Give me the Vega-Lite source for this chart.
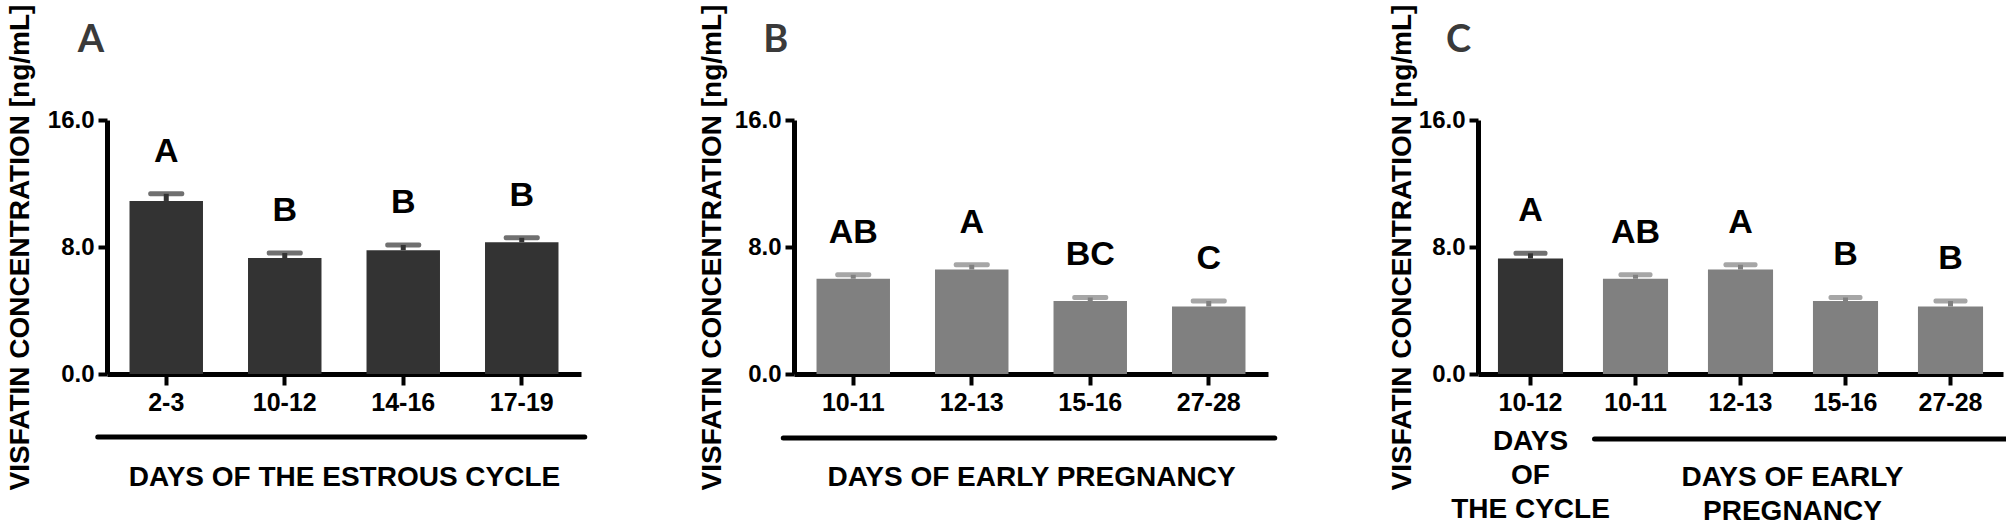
{
  "$schema": "https://vega.github.io/schema/vega-lite/v6.json",
  "background": "white",
  "padding": {"left": 6, "top": 4, "right": 5, "bottom": 5},
  "spacing": 110,
  "config": {
    "view": {"stroke": null},
    "font": "Liberation Sans",
    "axis": {
      "grid": false,
      "domainColor": "black",
      "domainWidth": 5,
      "tickColor": "black",
      "tickWidth": 4,
      "labelFont": "Liberation Sans",
      "labelFontWeight": "bold",
      "labelColor": "black",
      "titleFont": "Liberation Sans",
      "titleFontWeight": "bold",
      "titleColor": "black"
    },
    "axisX": {"tickSize": 11, "labelFontSize": 25, "labelPadding": 5, "labelAngle": 0, "titleFontSize": 28, "titlePadding": 48},
    "axisY": {"tickSize": 9, "labelFontSize": 24, "labelPadding": 4, "titleFontSize": 28}
  },
  "hconcat": [
    {
      "width": 474,
      "height": 254,
      "data": {"values": [
        {"day": "2-3", "mean": 10.9, "upper": 11.35, "letter": "A", "grp": "cycle"},
        {"day": "10-12", "mean": 7.3, "upper": 7.62, "letter": "B", "grp": "cycle"},
        {"day": "14-16", "mean": 7.8, "upper": 8.13, "letter": "B", "grp": "cycle"},
        {"day": "17-19", "mean": 8.3, "upper": 8.58, "letter": "B", "grp": "cycle"}
      ]},
      "encoding": {
        "x": {"field": "day", "type": "nominal", "scale": {"domain": ["2-3", "10-12", "14-16", "17-19"], "paddingInner": 0.38, "paddingOuter": 0.19}, "axis": {"title": "DAYS OF THE ESTROUS CYCLE"}}
      },
      "layer": [
        {
          "mark": {"type": "bar"},
          "encoding": {
            "y": {"field": "mean", "type": "quantitative", "scale": {"domain": [0, 16], "nice": false}, "axis": {"values": [0, 8, 16], "format": ".1f", "title": "VISFATIN CONCENTRATION [ng/mL]", "titlePadding": 13}},
            "color": {"field": "grp", "type": "nominal", "scale": {"domain": ["cycle", "pregnancy"], "range": ["#333333", "#808080"]}, "legend": null}
          }
        },
        {
          "mark": {"type": "rule", "strokeWidth": 5},
          "encoding": {
            "y": {"field": "mean", "type": "quantitative"},
            "y2": {"field": "upper"},
            "color": {"field": "grp", "type": "nominal", "legend": null}
          }
        },
        {
          "mark": {"type": "tick", "thickness": 5, "size": 36, "cornerRadius": 2},
          "encoding": {
            "y": {"field": "upper", "type": "quantitative"},
            "color": {"field": "grp", "type": "nominal", "legend": null}
          }
        },
        {
          "mark": {"type": "text", "dy": -42, "fontSize": 34, "fontWeight": "bold", "baseline": "middle", "color": "black"},
          "encoding": {
            "y": {"field": "upper", "type": "quantitative"},
            "text": {"field": "letter"}
          }
        },
        {
          "data": {"values": [{}]},
          "mark": {"type": "rule", "strokeWidth": 5, "color": "black", "strokeCap": "round", "yOffset": 63, "xOffset": -68.5, "x2Offset": 63},
          "encoding": {
            "x": {"datum": "2-3", "type": "nominal"},
            "x2": {"datum": "17-19"},
            "y": {"datum": 0, "type": "quantitative"}
          }
        },
        {
          "data": {"values": [{}]},
          "mark": {"type": "text", "text": "A", "font": "Lato", "fontSize": 38, "fontWeight": "bold", "color": "#3a3a3a", "align": "left", "baseline": "alphabetic", "xOffset": -88.5, "yOffset": -68},
          "encoding": {
            "x": {"datum": "2-3", "type": "nominal"},
            "y": {"datum": 16, "type": "quantitative"}
          }
        }
      ]
    },
    {
      "width": 474,
      "height": 254,
      "data": {"values": [
        {"day": "10-11", "mean": 6.0, "upper": 6.25, "letter": "AB", "grp": "pregnancy"},
        {"day": "12-13", "mean": 6.58, "upper": 6.88, "letter": "A", "grp": "pregnancy"},
        {"day": "15-16", "mean": 4.6, "upper": 4.82, "letter": "BC", "grp": "pregnancy"},
        {"day": "27-28", "mean": 4.25, "upper": 4.6, "letter": "C", "grp": "pregnancy"}
      ]},
      "encoding": {
        "x": {"field": "day", "type": "nominal", "scale": {"domain": ["10-11", "12-13", "15-16", "27-28"], "paddingInner": 0.38, "paddingOuter": 0.19}, "axis": {"title": "DAYS OF EARLY PREGNANCY"}}
      },
      "layer": [
        {
          "mark": {"type": "bar"},
          "encoding": {
            "y": {"field": "mean", "type": "quantitative", "scale": {"domain": [0, 16], "nice": false}, "axis": {"values": [0, 8, 16], "format": ".1f", "title": "VISFATIN CONCENTRATION [ng/mL]", "titlePadding": 8}},
            "color": {"field": "grp", "type": "nominal", "scale": {"domain": ["cycle", "pregnancy"], "range": ["#333333", "#808080"]}, "legend": null}
          }
        },
        {
          "mark": {"type": "rule", "strokeWidth": 5},
          "encoding": {
            "y": {"field": "mean", "type": "quantitative"},
            "y2": {"field": "upper"},
            "color": {"field": "grp", "type": "nominal", "legend": null}
          }
        },
        {
          "mark": {"type": "tick", "thickness": 5, "size": 36, "cornerRadius": 2},
          "encoding": {
            "y": {"field": "upper", "type": "quantitative"},
            "color": {"field": "grp", "type": "nominal", "legend": null}
          }
        },
        {
          "mark": {"type": "text", "dy": -42, "fontSize": 34, "fontWeight": "bold", "baseline": "middle", "color": "black"},
          "encoding": {
            "y": {"field": "upper", "type": "quantitative"},
            "text": {"field": "letter"}
          }
        },
        {
          "data": {"values": [{}]},
          "mark": {"type": "rule", "strokeWidth": 5, "color": "black", "strokeCap": "round", "yOffset": 64, "xOffset": -70, "x2Offset": 66},
          "encoding": {
            "x": {"datum": "10-11", "type": "nominal"},
            "x2": {"datum": "27-28"},
            "y": {"datum": 0, "type": "quantitative"}
          }
        },
        {
          "data": {"values": [{}]},
          "mark": {"type": "text", "text": "B", "font": "Lato", "fontSize": 38, "fontWeight": "bold", "color": "#3a3a3a", "align": "left", "baseline": "alphabetic", "xOffset": -90, "yOffset": -68},
          "encoding": {
            "x": {"datum": "10-11", "type": "nominal"},
            "y": {"datum": 16, "type": "quantitative"}
          }
        }
      ]
    },
    {
      "width": 525,
      "height": 254,
      "data": {"values": [
        {"day": "10-12", "mean": 7.28, "upper": 7.6, "letter": "A", "grp": "cycle"},
        {"day": "10-11", "mean": 6.0, "upper": 6.25, "letter": "AB", "grp": "pregnancy"},
        {"day": "12-13", "mean": 6.58, "upper": 6.88, "letter": "A", "grp": "pregnancy"},
        {"day": "15-16", "mean": 4.6, "upper": 4.82, "letter": "B", "grp": "pregnancy"},
        {"day": "27-28", "mean": 4.25, "upper": 4.6, "letter": "B", "grp": "pregnancy"}
      ]},
      "encoding": {
        "x": {"field": "day", "type": "nominal", "scale": {"domain": ["10-12", "10-11", "12-13", "15-16", "27-28"], "paddingInner": 0.38, "paddingOuter": 0.19}, "axis": {"title": null}}
      },
      "layer": [
        {
          "mark": {"type": "bar"},
          "encoding": {
            "y": {"field": "mean", "type": "quantitative", "scale": {"domain": [0, 16], "nice": false}, "axis": {"values": [0, 8, 16], "format": ".1f", "title": "VISFATIN CONCENTRATION [ng/mL]", "titlePadding": 2}},
            "color": {"field": "grp", "type": "nominal", "scale": {"domain": ["cycle", "pregnancy"], "range": ["#333333", "#808080"]}, "legend": null}
          }
        },
        {
          "mark": {"type": "rule", "strokeWidth": 5},
          "encoding": {
            "y": {"field": "mean", "type": "quantitative"},
            "y2": {"field": "upper"},
            "color": {"field": "grp", "type": "nominal", "legend": null}
          }
        },
        {
          "mark": {"type": "tick", "thickness": 5, "size": 34, "cornerRadius": 2},
          "encoding": {
            "y": {"field": "upper", "type": "quantitative"},
            "color": {"field": "grp", "type": "nominal", "legend": null}
          }
        },
        {
          "mark": {"type": "text", "dy": -42, "fontSize": 34, "fontWeight": "bold", "baseline": "middle", "color": "black"},
          "encoding": {
            "y": {"field": "upper", "type": "quantitative"},
            "text": {"field": "letter"}
          }
        },
        {
          "data": {"values": [{}]},
          "mark": {"type": "rule", "strokeWidth": 5, "color": "black", "strokeCap": "round", "yOffset": 65, "xOffset": -41, "x2Offset": 56},
          "encoding": {
            "x": {"datum": "10-11", "type": "nominal"},
            "x2": {"datum": "27-28"},
            "y": {"datum": 0, "type": "quantitative"}
          }
        },
        {
          "data": {"values": [{}]},
          "mark": {"type": "text", "text": ["DAYS", "OF", "THE CYCLE"], "fontSize": 28, "fontWeight": "bold", "color": "black", "lineHeight": 34, "align": "center", "baseline": "alphabetic", "yOffset": 76},
          "encoding": {
            "x": {"datum": "10-12", "type": "nominal"},
            "y": {"datum": 0, "type": "quantitative"}
          }
        },
        {
          "data": {"values": [{}]},
          "mark": {"type": "text", "text": ["DAYS OF EARLY", "PREGNANCY"], "fontSize": 28, "fontWeight": "bold", "color": "black", "lineHeight": 34, "align": "center", "baseline": "alphabetic", "xOffset": 52, "yOffset": 112},
          "encoding": {
            "x": {"datum": "12-13", "type": "nominal"},
            "y": {"datum": 0, "type": "quantitative"}
          }
        },
        {
          "data": {"values": [{}]},
          "mark": {"type": "text", "text": "C", "font": "Lato", "fontSize": 38, "fontWeight": "bold", "color": "#3a3a3a", "align": "left", "baseline": "alphabetic", "xOffset": -84.5, "yOffset": -68},
          "encoding": {
            "x": {"datum": "10-12", "type": "nominal"},
            "y": {"datum": 16, "type": "quantitative"}
          }
        }
      ]
    }
  ]
}
